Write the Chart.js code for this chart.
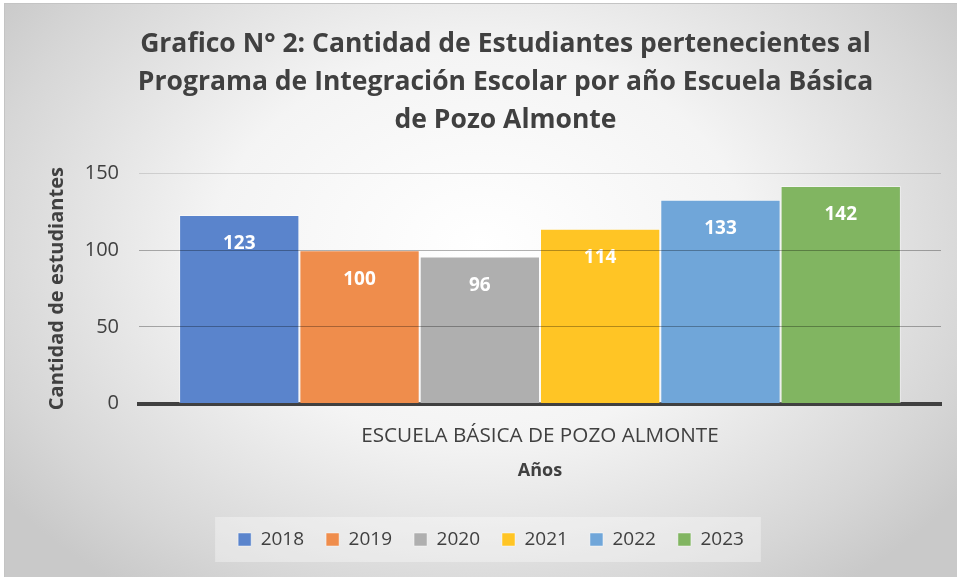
<!DOCTYPE html>
<html lang="es">
<head>
<meta charset="UTF-8">
<title>Grafico N° 2</title>
<script src="https://cdn.jsdelivr.net/npm/chart.js"></script>
<style>
  html, body { margin: 0; padding: 0; background: #fff; }
  #wrap {
    position: absolute; left: 4px; top: 3px; width: 952px; height: 573px;
    border: 1px solid #c4c4c4; border-right: none; border-bottom: none;
    background: radial-gradient(ellipse 62% 75% at 50% 42%, #ffffff 0%, #f4f4f4 45%, #d6d6d6 85%, #c9c9c9 100%);
  }
</style>
</head>
<body>
<div id="wrap"><canvas id="chart" width="952" height="573"></canvas></div>
<script>
  // datos
  const categorias = ['ESCUELA BÁSICA DE POZO ALMONTE'];
  const anios = ['2018', '2019', '2020', '2021', '2022', '2023'];
  const estudiantes = [123, 100, 96, 114, 133, 142];
  const colores = ['#5a84cc', '#ef8d4c', '#afafaf', '#ffc525', '#70a6d9', '#81b561'];

  const FONT = "'Open Sans', 'DejaVu Sans', sans-serif";

  // etiquetas blancas dentro de cada barra
  const etiquetas = {
    id: 'etiquetas',
    afterDatasetsDraw(chart) {
      const ctx = chart.ctx;
      ctx.save();
      ctx.fillStyle = '#ffffff';
      ctx.font = 'bold 19px ' + FONT;
      ctx.textAlign = 'center';
      ctx.textBaseline = 'middle';
      chart.data.datasets.forEach((ds, i) => {
        const bar = chart.getDatasetMeta(i).data[0];
        ctx.fillText(ds.data[0], bar.x, bar.y + 29);
      });
      ctx.restore();
    }
  };

  // fondo claro detras de la leyenda + titulo algo corrido a la derecha
  const ajustes = {
    id: 'ajustes',
    afterLayout(chart) {
      chart.titleBlock.left += 29;
    },
    beforeDraw(chart) {
      const boxes = chart.legend.legendHitBoxes;
      if (!boxes || !boxes.length) return;
      const l = boxes[0].left, r = boxes[boxes.length - 1].left + boxes[boxes.length - 1].width;
      const t = boxes[0].top, h = boxes[0].height;
      const ctx = chart.ctx;
      ctx.save();
      ctx.fillStyle = 'rgba(255,255,255,0.35)';
      ctx.fillRect(l - 23, t - 13, r - l + 40, h + 26);
      ctx.restore();
    }
  };

  new Chart(document.getElementById('chart'), {
    type: 'bar',
    data: {
      labels: categorias,
      datasets: anios.map((a, i) => ({
        label: a,
        data: [estudiantes[i]],
        backgroundColor: colores[i],
        borderColor: 'rgba(255,255,255,0.45)',
        borderWidth: 1,
        categoryPercentage: 0.9,
        barPercentage: 1.0
      }))
    },
    options: {
      responsive: false,
      animation: false,
      layout: { padding: { left: 36, right: 16, top: 6, bottom: 18 } },
      scales: {
        x: {
          grid: { display: false },
          border: { display: true, color: '#404040', width: 4 },
          ticks: { color: '#404040', font: { family: FONT, size: 20.7 }, padding: 12 },
          title: { display: true, text: 'Años', color: '#404040', font: { family: FONT, size: 18, weight: 'bold' }, padding: { top: 0, bottom: 26 } }
        },
        y: {
          min: 0, max: 150,
          afterFit(scale) { scale.width = 98; },
          border: { display: false },
          grid: {
            z: 1,
            drawTicks: false,
            color: c => c.tick.value === 0 ? 'rgba(0,0,0,0)' : (c.tick.value === 150 ? 'rgba(0,0,0,0.12)' : 'rgba(0,0,0,0.3)')
          },
          ticks: { stepSize: 50, color: '#404040', font: { family: FONT, size: 20 }, padding: 20 },
          title: { display: true, text: 'Cantidad de estudiantes', color: '#404040', font: { family: FONT, size: 20, weight: 'bold' }, padding: 4 }
        }
      },
      plugins: {
        title: {
          display: true,
          text: ['Grafico N° 2: Cantidad de Estudiantes pertenecientes al',
                 'Programa de Integración Escolar por año Escuela Básica',
                 'de Pozo Almonte'],
          color: '#404040',
          font: { family: FONT, size: 26.5, weight: 'bold', lineHeight: 1.43 },
          padding: { top: 16, bottom: 34 }
        },
        legend: {
          position: 'bottom',
          labels: { color: '#404040', font: { family: FONT, size: 19 }, boxWidth: 13, boxHeight: 13, padding: 22 }
        },
        tooltip: { enabled: false }
      }
    },
    plugins: [etiquetas, ajustes]
  });
</script>
</body>
</html>
